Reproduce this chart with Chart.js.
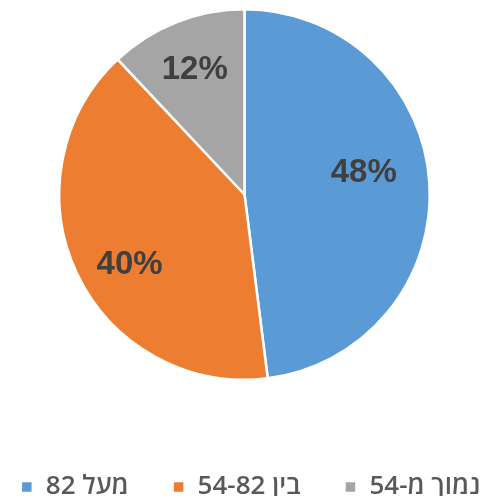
<!DOCTYPE html>
<html>
<head>
<meta charset="utf-8">
<script src="https://cdn.jsdelivr.net/npm/chart.js@4.4.0/dist/chart.umd.min.js"></script>
<style>
  html, body { margin: 0; padding: 0; background: #fff; }
  #wrap { width: 489px; height: 496px; }
</style>
</head>
<body>
<div id="wrap"><canvas id="MyChart"></canvas></div>
<script>
// categories and values (percent)
var labels = ['מעל 82', 'בין 54-82', 'נמוך מ-54'];
var values = [48, 40, 12];
var colors = ['#5B9BD5', '#ED7D31', '#A5A5A5'];

// label placement inside slices (fraction of radius, angle nudge in degrees)
var labelRadius = [0.655, 0.725, 0.73];
var labelTurn = [-7, -6, 0];

// draws the percent labels inside each slice
const sliceLabels = {
  id: 'sliceLabels',
  afterLayout(chart) {
    // legend sits a bit right of the pie centre in the original
    chart.legend.left += 8;
    chart.legend.right += 8;
  },
  afterDatasetsDraw(chart) {
    const ctx = chart.ctx;
    const meta = chart.getDatasetMeta(0);
    ctx.save();
    ctx.font = 'bold 33px "Liberation Sans", "DejaVu Sans", sans-serif';
    ctx.fillStyle = '#404040';
    ctx.textAlign = 'center';
    ctx.textBaseline = 'middle';
    meta.data.forEach(function (arc, i) {
      var p = arc.getProps(['x', 'y', 'startAngle', 'endAngle', 'outerRadius'], true);
      var mid = (p.startAngle + p.endAngle) / 2 + labelTurn[i] * Math.PI / 180;
      var r = p.outerRadius * labelRadius[i];
      ctx.fillText(values[i] + '%', p.x + Math.cos(mid) * r, p.y + Math.sin(mid) * r + 1);
    });
    ctx.restore();
  }
};

const data = {
  labels: labels,
  datasets: [{
    data: values,
    backgroundColor: colors,
    borderColor: '#ffffff',
    borderWidth: 2.5
  }]
};

const config = {
  type: 'pie',
  data: data,
  options: {
    responsive: true,
    maintainAspectRatio: false,
    animation: false,
    layout: { padding: { top: 8, bottom: -14, left: -42, right: -38 } },
    plugins: {
      tooltip: { enabled: false },
      legend: {
        position: 'bottom',
        textDirection: 'rtl',
        title: {
          display: true,
          text: '',
          font: { size: 10, lineHeight: 1 },
          padding: { top: 39, bottom: 0 }
        },
        labels: {
          boxWidth: 12,
          boxHeight: 12,
          padding: 44,
          color: '#595959',
          font: { size: 26, weight: '600', family: '"Open Sans", "DejaVu Sans", sans-serif' }
        }
      }
    }
  },
  plugins: [sliceLabels]
};

const myChart = new Chart(document.getElementById('MyChart'), config);
</script>
</body>
</html>
